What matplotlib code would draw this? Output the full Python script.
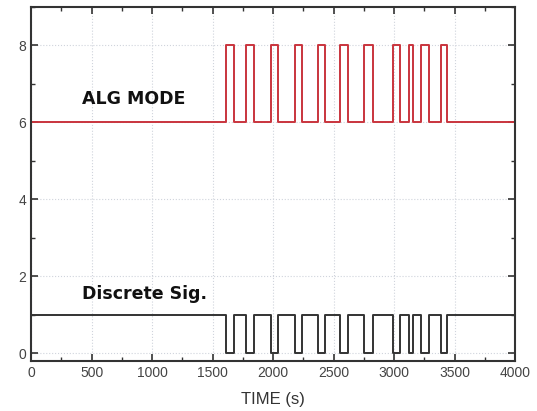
import numpy as np
import matplotlib
matplotlib.use("Agg")
import matplotlib.pyplot as plt
from matplotlib.ticker import MultipleLocator

# pulse windows (s) during which the mode switches
pulse_start = [1610, 1780, 1980, 2180, 2370, 2550, 2750, 2990, 3125, 3220, 3390]
pulse_end = [1680, 1840, 2040, 2240, 2430, 2620, 2830, 3050, 3160, 3290, 3440]
t_end = 4000

alg_low, alg_high = 6, 8
sig_high, sig_low = 1, 0


def square(starts, ends, base, active):
    t = [0]
    y = [base]
    for s, e in zip(starts, ends):
        t += [s, s, e, e]
        y += [base, active, active, base]
    t.append(t_end)
    y.append(base)
    return np.array(t), np.array(y)


t_alg, y_alg = square(pulse_start, pulse_end, alg_low, alg_high)
t_sig, y_sig = square(pulse_start, pulse_end, sig_high, sig_low)

fig = plt.figure(figsize=(5.37, 4.11), dpi=100)
ax = fig.add_axes([0.058, 0.122, 0.901, 0.861])

ax.plot(t_alg, y_alg, color="#c9343d", lw=1.4)
ax.plot(t_sig, y_sig, color="#333333", lw=1.4)

ax.text(420, 6.62, "ALG MODE", fontsize=12.5, fontweight="bold", family="DejaVu Sans",
        va="center", ha="left", color="#111111")
ax.text(420, 1.55, "Discrete Sig.", fontsize=12.5, fontweight="bold", family="DejaVu Sans",
        va="center", ha="left", color="#111111")

ax.set_xlim(0, 4000)
ax.set_ylim(-0.2, 9)
ax.xaxis.set_major_locator(MultipleLocator(500))
ax.xaxis.set_minor_locator(MultipleLocator(250))
ax.yaxis.set_major_locator(MultipleLocator(2))
ax.yaxis.set_minor_locator(MultipleLocator(1))
ax.grid(True, which="major", color="#d0d4dc", ls=":", lw=0.8)
ax.tick_params(which="both", direction="in", top=True, right=True,
               colors="#333333", labelcolor="#444444", labelsize=10)
ax.tick_params(which="major", length=5, width=1.2)
ax.tick_params(which="minor", length=3, width=1.0)
for sp in ax.spines.values():
    sp.set_color("#333333")
    sp.set_linewidth(1.5)

for lbl in ax.get_xticklabels() + ax.get_yticklabels():
    lbl.set_family("Liberation Sans")
ax.set_xlabel("TIME (s)", fontsize=12, family="Liberation Sans", color="#333333", labelpad=9)

fig.savefig("out.png", dpi=100)
